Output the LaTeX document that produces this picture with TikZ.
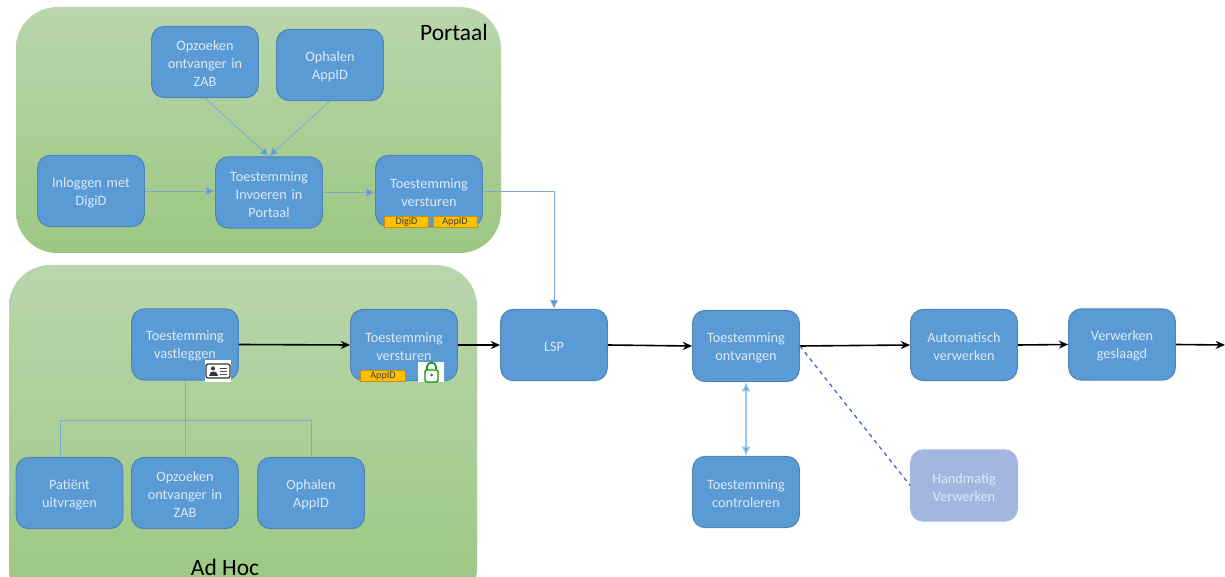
\documentclass[tikz,border=0pt]{standalone}
\usepackage{fontspec}
\setmainfont{Carlito}
\usetikzlibrary{arrows.meta,calc}
\definecolor{boxfill}{HTML}{5B9BD5}
\definecolor{boxline}{HTML}{4F84B6}
\definecolor{boxtext}{HTML}{DCE9F6}
\definecolor{thinblue}{HTML}{7FA9CE}
\definecolor{grptop}{HTML}{B9D6AC}
\definecolor{grpbot}{HTML}{9CC782}
\definecolor{tagfill}{HTML}{FFC000}
\definecolor{tagline}{HTML}{C98F10}
\definecolor{softbox}{HTML}{A1B7DF}
\tikzset{
  x=0.75pt,y=-0.75pt,
  grp/.style={rounded corners=31pt,top color=grptop,bottom color=grpbot,draw=none},
  bx/.style={draw=boxline,line width=0.8pt,fill=boxfill,rounded corners=9.5pt,minimum width=80pt,minimum height=53.4pt,inner sep=1pt,
    align=center,text=boxtext,font=\fontsize{10.7}{13.5}\selectfont,text width=78pt,execute at begin node={\rule{0pt}{10pt}}},
  bxthree/.style={bx,execute at begin node={\rule{0pt}{8pt}}},
  softbx/.style={bx,draw=softbox,fill=softbox},
  tag/.style={draw=tagline,line width=0.7pt,fill=tagfill,minimum height=8.5pt,inner sep=0pt,font=\fontsize{7.6}{8}\selectfont,text=black!75},
  title/.style={font=\fontsize{17.6}{19}\selectfont,text=black,inner sep=0pt},
  thin link/.style={draw=thinblue,line width=0.6pt,-{Latex[length=6.5pt,width=6pt,fill=boxfill]}},
  thin plain/.style={draw=thinblue,line width=0.6pt},
  flow/.style={draw=black,line width=1.2pt,-{Stealth[length=7pt,width=6pt]}},
  dbl/.style={draw=boxfill!60,line width=1.1pt,{Latex[length=7pt,width=7pt,fill=boxfill]}-{Latex[length=7pt,width=7pt,fill=boxfill]}},
  dash link/.style={draw=boxline!70!blue,line width=0.9pt,dashed},
}
\begin{document}
\begin{tikzpicture}
\useasboundingbox (0,0) rectangle (1225,577);
\clip (0,0) rectangle (1225,577);
% groups
\path[grp] (16,7) rectangle (501,253);
\path[grp] (9,265) rectangle (477,610);
\node[title,anchor=center] (tp) at (454,32) {Portaal};
\node[title,anchor=center] (ta) at (225,567) {Ad Hoc};
% portal boxes
\node[bxthree] (op1) at (205,62) {Opzoeken\\ontvanger in\\ZAB};
\node[bx] (ap1) at (330,65) {Ophalen\\AppID};
\node[bx] (log) at (91,191) {Inloggen met\\DigiD};
\node[bxthree] (inv) at (269,192.5) {Toestemming\\Invoeren in\\Portaal};
\node[bx] (ver1) at (429,191) {Toestemming\\versturen\\[5pt]};
\node[tag,minimum width=33pt] (t1) at (406.5,222) {DigiD};
\node[tag,minimum width=33pt] (t2) at (455,222) {AppID};
% ad hoc boxes
\node[bx] (vast) at (185,344.5) {Toestemming\\vastleggen};
\node[bx] (ver2) at (404,345) {Toestemming\\versturen};
\node[bx] (pat) at (69.5,493) {Patiënt\\uitvragen};
\node[bxthree] (op2) at (185,493) {Opzoeken\\ontvanger in\\ZAB};
\node[bx] (ap2) at (311,493) {Ophalen\\AppID};
\node[tag,minimum width=34pt] (t3) at (383,376) {AppID};
% ID card icon
\node[fill=white,minimum width=19.5pt,minimum height=16pt,inner sep=0pt] (idb) at (218,371) {};
\draw[draw=black!80,line width=0.9pt,fill=white,rounded corners=1.5pt] (206,364) rectangle (230,378);
\fill[black!80] (213,368.5) circle (2);
\fill[black!80] (208.5,376) .. controls (208.5,370.5) and (217.5,370.5) .. (217.5,376) -- cycle;
\draw[black!70,line width=0.6pt] (220,368) -- (227,368) (220,371) -- (227,371) (220,374) -- (227,374);
% lock icon
\node[fill=white,minimum width=19.5pt,minimum height=15pt,inner sep=0pt] (lkb) at (431,372) {};
\draw[draw=green!60!black,line width=1pt,fill=white,rounded corners=1pt] (425,370) rectangle (438,382);
\draw[draw=green!60!black,line width=1.2pt] (427,370) -- (427,367) .. controls (427,361) and (436,361) .. (436,367) -- (436,369);
\fill[green!60!black] (431.5,375) circle (1.5);
% main line
\node[bx] (lsp) at (554,345) {LSP};
\node[bx] (ont) at (746,346) {Toestemming\\ontvangen};
\node[bx] (aut) at (964,345) {Automatisch\\verwerken};
\node[bx] (ges) at (1122,344.5) {Verwerken\\geslaagd};
\node[bx] (con) at (746,492) {Toestemming\\controleren};
\node[softbx] (han) at (964,485.5) {Handmatig\\Verwerken};
\coordinate (end) at (1225,345);
\coordinate (jn) at (185,420);
\coordinate (patup) at (60,457);
% connectors portal
\draw[thin link] (op1.south) -- (inv.north);
\draw[thin link] (ap1.south) -- (inv.north);
\draw[thin link] (log.east) -- (inv.west |- log.east);
\draw[thin link] (inv.east) -- (ver1.west |- inv.east);
\draw[thin link] (ver1.east) -| (lsp.north);
% ad hoc tree
\draw[thin plain] (vast.south) -- (op2.north);
\draw[thin plain] (patup) |- (jn);
\draw[thin plain] (jn) -| (ap2.north);
% flow
\draw[flow] (vast.east) -- (ver2.west);
\draw[flow] (ver2.east) -- (lsp.west);
\draw[flow] (lsp.east) -- (ont.west);
\draw[flow] (ont.east) -- (aut.west);
\draw[flow] (aut.east) -- (ges.west);
\draw[flow] (ges.east) -- (end);
\draw[dbl] (ont.south) -- (con.north);
\draw[dash link] (ont.east) -- (han.west);
\end{tikzpicture}
\end{document}
